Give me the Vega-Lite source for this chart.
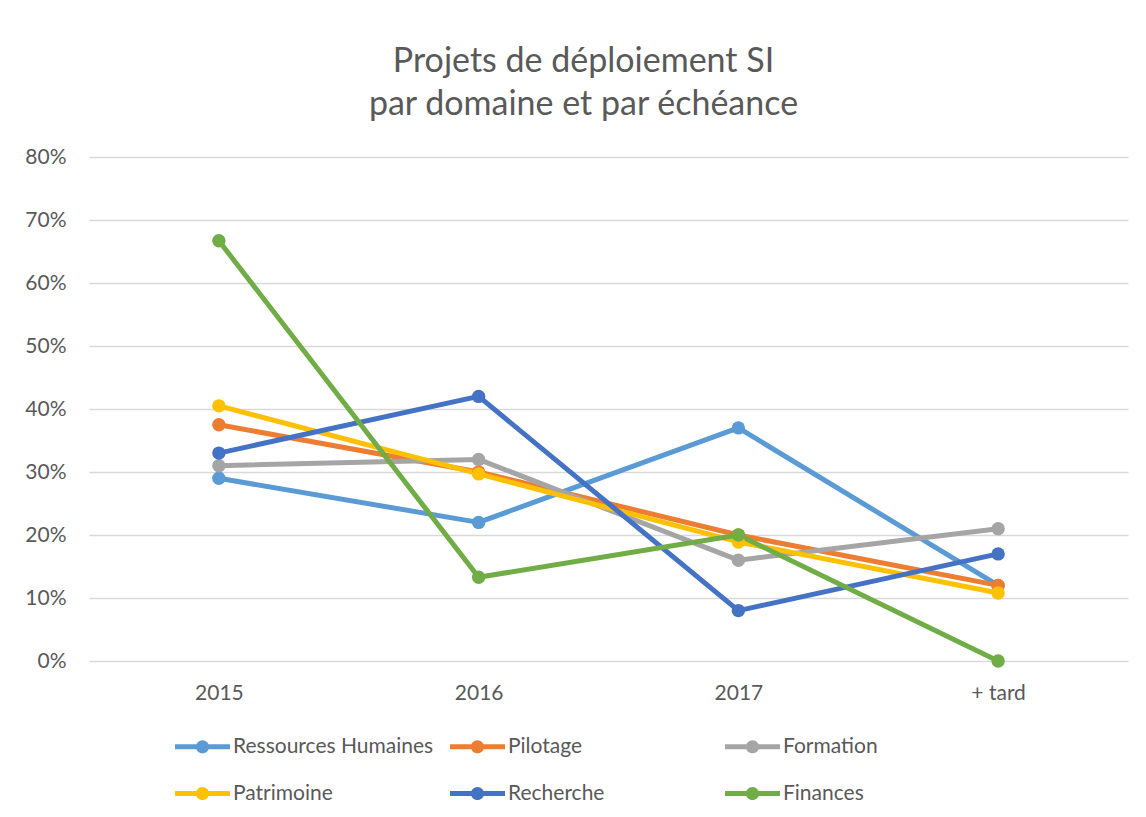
{
  "$schema": "https://vega.github.io/schema/vega-lite/v6.json",
  "autosize": {"type": "none"},
  "width": 1039,
  "height": 504,
  "padding": {"left": 89, "top": 157, "right": 18, "bottom": 156},
  "background": "white",
  "title": {
    "text": ["Projets de déploiement SI", "par domaine et par échéance"],
    "font": "Lato",
    "fontSize": 34,
    "fontWeight": "normal",
    "color": "#595959",
    "lineHeight": 43,
    "anchor": "middle",
    "dx": -25,
    "offset": 24
  },
  "config": {
    "view": {"stroke": null},
    "font": "Lato",
    "axis": {"labelFont": "Lato", "labelColor": "#595959", "labelFontSize": 21},
    "legend": {"labelFont": "Lato", "labelColor": "#595959", "labelFontSize": 21}
  },
  "resolve": {"legend": {"color": "independent"}},
  "data": {
    "values": [
      {"serie": "Ressources Humaines", "ordre": 1, "periode": "2015", "valeur": 0.29},
      {"serie": "Ressources Humaines", "ordre": 1, "periode": "2016", "valeur": 0.22},
      {"serie": "Ressources Humaines", "ordre": 1, "periode": "2017", "valeur": 0.37},
      {"serie": "Ressources Humaines", "ordre": 1, "periode": "+ tard", "valeur": 0.12},
      {"serie": "Pilotage", "ordre": 2, "periode": "2015", "valeur": 0.375},
      {"serie": "Pilotage", "ordre": 2, "periode": "2016", "valeur": 0.30},
      {"serie": "Pilotage", "ordre": 2, "periode": "2017", "valeur": 0.20},
      {"serie": "Pilotage", "ordre": 2, "periode": "+ tard", "valeur": 0.12},
      {"serie": "Formation", "ordre": 3, "periode": "2015", "valeur": 0.31},
      {"serie": "Formation", "ordre": 3, "periode": "2016", "valeur": 0.32},
      {"serie": "Formation", "ordre": 3, "periode": "2017", "valeur": 0.16},
      {"serie": "Formation", "ordre": 3, "periode": "+ tard", "valeur": 0.21},
      {"serie": "Patrimoine", "ordre": 4, "periode": "2015", "valeur": 0.405},
      {"serie": "Patrimoine", "ordre": 4, "periode": "2016", "valeur": 0.297},
      {"serie": "Patrimoine", "ordre": 4, "periode": "2017", "valeur": 0.189},
      {"serie": "Patrimoine", "ordre": 4, "periode": "+ tard", "valeur": 0.108},
      {"serie": "Recherche", "ordre": 5, "periode": "2015", "valeur": 0.33},
      {"serie": "Recherche", "ordre": 5, "periode": "2016", "valeur": 0.42},
      {"serie": "Recherche", "ordre": 5, "periode": "2017", "valeur": 0.08},
      {"serie": "Recherche", "ordre": 5, "periode": "+ tard", "valeur": 0.17},
      {"serie": "Finances", "ordre": 6, "periode": "2015", "valeur": 0.667},
      {"serie": "Finances", "ordre": 6, "periode": "2016", "valeur": 0.133},
      {"serie": "Finances", "ordre": 6, "periode": "2017", "valeur": 0.20},
      {"serie": "Finances", "ordre": 6, "periode": "+ tard", "valeur": 0.0}
    ]
  },
  "encoding": {
    "x": {
      "field": "periode",
      "type": "ordinal",
      "sort": ["2015", "2016", "2017", "+ tard"],
      "scale": {"type": "point", "padding": 0.5},
      "axis": {"title": null, "domain": false, "ticks": false, "labelAngle": 0, "labelPadding": 21, "grid": false}
    },
    "y": {
      "field": "valeur",
      "type": "quantitative",
      "scale": {"domain": [0, 0.8], "nice": false, "zero": true},
      "axis": {
        "title": null, "format": ".0%", "values": [0, 0.1, 0.2, 0.3, 0.4, 0.5, 0.6, 0.7, 0.8],
        "domain": false, "ticks": false, "labelPadding": 23,
        "gridColor": "#d9d9d9", "gridWidth": 1.3
      }
    }
  },
  "layer": [
    {
      "mark": {"type": "line", "strokeWidth": 5, "strokeCap": "round", "strokeJoin": "round"},
      "encoding": {
        "color": {
          "field": "serie", "type": "nominal", "legend": null,
          "sort": ["Ressources Humaines", "Pilotage", "Formation", "Patrimoine", "Recherche", "Finances"],
          "scale": {
            "domain": ["Ressources Humaines", "Pilotage", "Formation", "Patrimoine", "Recherche", "Finances"],
            "range": ["#5B9BD5", "#ED7D31", "#A5A5A5", "#FFC000", "#4472C4", "#70AD47"]
          }
        }
      }
    },
    {
      "mark": {"type": "point", "filled": true, "opacity": 1, "size": 180, "shape": "circle"},
      "encoding": {
        "order": {"field": "ordre", "type": "quantitative"},
        "color": {
          "field": "serie", "type": "nominal",
          "sort": ["Ressources Humaines", "Pilotage", "Formation", "Patrimoine", "Recherche", "Finances"],
          "scale": {
            "domain": ["Ressources Humaines", "Pilotage", "Formation", "Patrimoine", "Recherche", "Finances"],
            "range": ["#5B9BD5", "#ED7D31", "#A5A5A5", "#FFC000", "#4472C4", "#70AD47"]
          },
          "legend": {
            "title": null,
            "orient": "none",
            "legendX": 86,
            "legendY": 562,
            "direction": "horizontal",
            "columns": 3,
            "gridAlign": "all",
            "columnPadding": 16,
            "rowPadding": 9,
            "labelOffset": 3,
            "symbolType": "M -1 -0.09 L 1 -0.09 L 1 0.09 L -1 0.09 Z M 0.24 0 A 0.24 0.24 0 1 1 -0.24 0 A 0.24 0.24 0 1 1 0.24 0 Z",
            "symbolSize": 3025,
            "symbolStrokeWidth": 0,
            "symbolOpacity": 1,
            "labelLimit": 400
          }
        }
      }
    }
  ]
}
